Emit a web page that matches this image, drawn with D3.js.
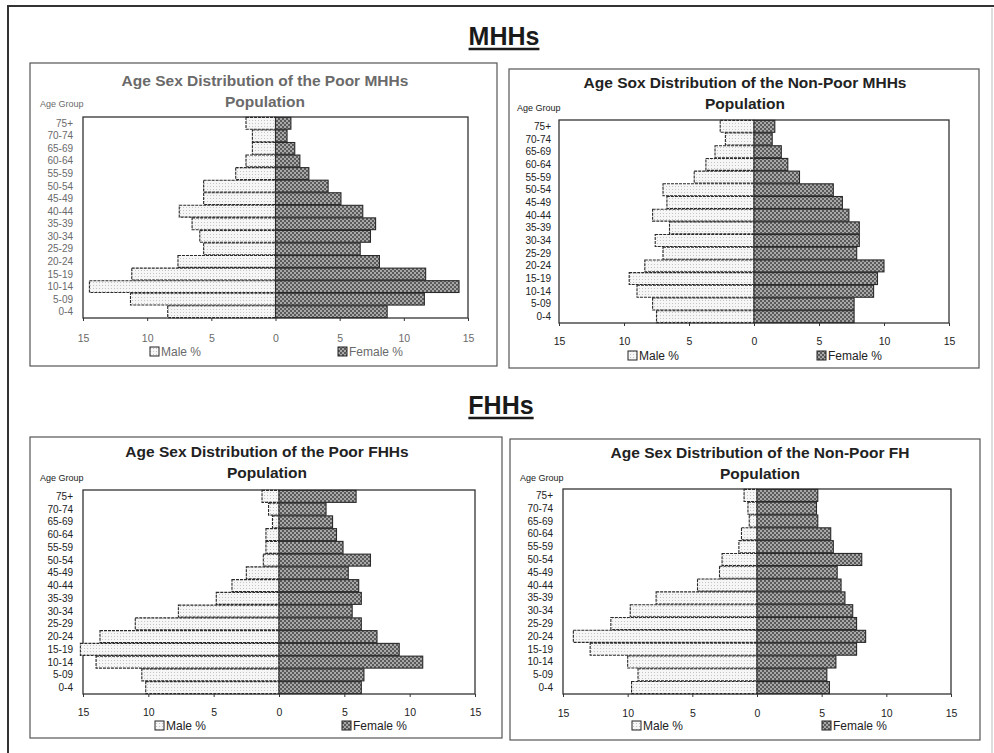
<!DOCTYPE html>
<html>
<head>
<meta charset="utf-8">
<script src="https://cdn.jsdelivr.net/npm/d3@7"></script>
<style>
  body { margin: 0; background: #fff; }
  svg { font-family: 'Liberation Sans', Arial, sans-serif; }
</style>
</head>
<body>
<svg id="page" width="994" height="753"></svg>
<script>
// age groups, top of pyramid first
const ageGroups = ['75+', '70-74', '65-69', '60-64', '55-59', '50-54', '45-49', '40-44',
  '35-39', '30-34', '25-29', '20-24', '15-19', '10-14', '5-09', '0-4']
const tickValues = [-15, -10, -5, 0, 5, 10, 15]

const poorMhhMale = [2.3, 1.8, 1.8, 2.3, 3.1, 5.6, 5.6, 7.5, 6.5, 5.9, 5.6, 7.6, 11.2, 14.5, 11.3, 8.4]
const poorMhhFemale = [1.2, 0.9, 1.5, 1.9, 2.6, 4.1, 5.1, 6.8, 7.8, 7.4, 6.6, 8.1, 11.7, 14.3, 11.6, 8.7]
const nonPoorMhhMale = [2.6, 2.2, 3.0, 3.7, 4.6, 7.0, 6.7, 7.8, 6.5, 7.6, 7.0, 8.4, 9.6, 9.0, 7.8, 7.5]
const nonPoorMhhFemale = [1.6, 1.4, 2.1, 2.6, 3.5, 6.1, 6.8, 7.3, 8.1, 8.1, 7.9, 10.0, 9.5, 9.2, 7.7, 7.7]
const poorFhhMale = [1.3, 0.8, 0.5, 1.0, 1.0, 1.2, 2.5, 3.6, 4.8, 7.7, 11.0, 13.7, 15.2, 14.0, 10.5, 10.2]
const poorFhhFemale = [5.9, 3.6, 4.1, 4.4, 4.9, 7.0, 5.3, 6.1, 6.3, 5.6, 6.3, 7.5, 9.2, 11.0, 6.5, 6.3]
const nonPoorFhhMale = [1.0, 0.7, 0.6, 1.2, 1.4, 2.7, 2.9, 4.6, 7.8, 9.8, 11.3, 14.2, 12.9, 10.0, 9.2, 9.7]
const nonPoorFhhFemale = [4.7, 4.6, 4.7, 5.7, 5.9, 8.1, 6.2, 6.5, 6.8, 7.4, 7.7, 8.4, 7.7, 6.1, 5.4, 5.6]

const panels = [
  { title: ['Age Sex Distribution of the Poor MHHs', 'Population'], male: poorMhhMale, female: poorMhhFemale,
    box: [30, 63, 467, 303], plot: [83, 468, 117, 318], titleX: 265, titleY: [86, 107],
    labelRight: 73, ageGroupX: 40, ageGroupY: 107, tickY: 338, legendY: 356, maleX: 150, femaleX: 338, faded: true },
  { title: ['Age Sox Distribution of the Non-Poor MHHs', 'Population'], male: nonPoorMhhMale, female: nonPoorMhhFemale,
    box: [509, 69, 470, 299], plot: [559, 949, 120, 323], titleX: 745, titleY: [88, 109],
    labelRight: 551, ageGroupX: 517, ageGroupY: 111, tickY: 341, legendY: 360, maleX: 628, femaleX: 817 },
  { title: ['Age Sex Distribution of the Poor FHHs', 'Population'], male: poorFhhMale, female: poorFhhFemale,
    box: [30, 437, 472, 301], plot: [83, 475, 490, 694], titleX: 267, titleY: [457, 478],
    labelRight: 73, ageGroupX: 40, ageGroupY: 481, tickY: 712, legendY: 730, maleX: 155, femaleX: 342 },
  { title: ['Age Sex Distribution of the Non-Poor FH', 'Population'], male: nonPoorFhhMale, female: nonPoorFhhFemale,
    box: [510, 439, 470, 301], plot: [563, 951, 489, 694], titleX: 760, titleY: [458, 479],
    labelRight: 553, ageGroupX: 520, ageGroupY: 481, tickY: 713, legendY: 730, maleX: 632, femaleX: 822 }
]

const svg = d3.select('#page')
const defs = svg.append('defs')

// light dotted fill for males
const pm = defs.append('pattern').attr('id', 'malePat').attr('patternUnits', 'userSpaceOnUse')
  .attr('width', 3).attr('height', 3)
pm.append('rect').attr('width', 3).attr('height', 3).attr('fill', '#f6f6f6')
pm.append('rect').attr('width', 1).attr('height', 1).attr('fill', '#c4c4c4')

// dark checker fill for females
const pf = defs.append('pattern').attr('id', 'femalePat').attr('patternUnits', 'userSpaceOnUse')
  .attr('width', 4).attr('height', 4)
pf.append('rect').attr('width', 4).attr('height', 4).attr('fill', '#a8a8a8')
pf.append('rect').attr('width', 2).attr('height', 2).attr('fill', '#5a5a5a')
pf.append('rect').attr('x', 2).attr('y', 2).attr('width', 2).attr('height', 2).attr('fill', '#5a5a5a')

// page frame
svg.append('path').attr('d', 'M8,753 V6 H994').attr('fill', 'none').attr('stroke', '#333').attr('stroke-width', 2)
svg.append('line').attr('x1', 992).attr('x2', 992).attr('y1', 8).attr('y2', 753)
  .attr('stroke', '#bbb').attr('stroke-width', 1)

// section headings
const headings = [{ text: 'MHHs', x: 504, y: 45 }, { text: 'FHHs', x: 501, y: 414 }]
headings.forEach(h => {
  const t = svg.append('text').attr('x', h.x).attr('y', h.y).attr('text-anchor', 'middle')
    .attr('font-size', 25).attr('font-weight', 'bold').attr('fill', '#1a1a1a').text(h.text)
  const w = t.node().getComputedTextLength()
  svg.append('line').attr('x1', h.x - w / 2).attr('x2', h.x + w / 2)
    .attr('y1', h.y + 4).attr('y2', h.y + 4).attr('stroke', '#1a1a1a').attr('stroke-width', 2.5)
})

function drawPanel(p) {
  const ink = p.faded ? '#6a6a6a' : '#222'
  const g = svg.append('g')
  const [bx, by, bw, bh] = p.box
  g.append('rect').attr('x', bx).attr('y', by).attr('width', bw).attr('height', bh)
    .attr('fill', '#fff').attr('stroke', '#555').attr('stroke-width', 1.2)

  p.title.forEach((line, i) => {
    g.append('text').attr('x', p.titleX).attr('y', p.titleY[i]).attr('text-anchor', 'middle')
      .attr('font-size', 15.5).attr('font-weight', 'bold').attr('fill', ink).text(line)
  })

  const [x0, x1, y0, y1] = p.plot
  const x = d3.scaleLinear().domain([-15, 15]).range([x0, x1])
  const y = d3.scaleBand().domain(ageGroups).range([y0, y1]).paddingInner(0.06).paddingOuter(0.03)

  g.append('rect').attr('x', x0).attr('y', y0).attr('width', x1 - x0).attr('height', y1 - y0)
    .attr('fill', '#fff').attr('stroke', '#333').attr('stroke-width', 1.3)

  g.selectAll('.male').data(ageGroups).join('rect').attr('class', 'male')
    .attr('x', (d, i) => x(-p.male[i])).attr('y', d => y(d))
    .attr('width', (d, i) => x(0) - x(-p.male[i])).attr('height', y.bandwidth())
    .attr('fill', 'url(#malePat)').attr('stroke', '#2a2a2a').attr('stroke-width', 1.1)
    .attr('stroke-dasharray', '3,1')

  g.selectAll('.female').data(ageGroups).join('rect').attr('class', 'female')
    .attr('x', x(0)).attr('y', d => y(d))
    .attr('width', (d, i) => x(p.female[i]) - x(0)).attr('height', y.bandwidth())
    .attr('fill', 'url(#femalePat)').attr('stroke', '#2a2a2a').attr('stroke-width', 1.1)

  // age labels
  g.selectAll('.age').data(ageGroups).join('text').attr('class', 'age')
    .attr('x', p.labelRight).attr('y', d => y(d) + y.bandwidth() / 2 + 3.5)
    .attr('text-anchor', 'end').attr('font-size', 10).attr('fill', ink).text(d => d)

  g.append('text').attr('x', p.ageGroupX).attr('y', p.ageGroupY)
    .attr('font-size', 9).attr('fill', ink).text('Age Group')

  // value axis
  const ax = g.append('g').attr('transform', `translate(0,${y1})`)
    .call(d3.axisBottom(x).tickValues(tickValues).tickSize(3).tickFormat(d => Math.abs(d)))
  ax.select('.domain').remove()
  ax.selectAll('line').attr('stroke', '#333')
  ax.selectAll('text').attr('font-size', 10.5).attr('fill', ink).attr('font-family', 'Liberation Sans, Arial, sans-serif')
    .attr('y', p.tickY - y1 + 4).attr('dy', 0)

  // legend
  const legend = [{ label: 'Male %', x: p.maleX, fill: 'url(#malePat)' }, { label: 'Female %', x: p.femaleX, fill: 'url(#femalePat)' }]
  legend.forEach(l => {
    g.append('rect').attr('x', l.x).attr('y', p.legendY - 9).attr('width', 9).attr('height', 9)
      .attr('fill', l.fill).attr('stroke', '#222').attr('stroke-width', 1)
    g.append('text').attr('x', l.x + 11).attr('y', p.legendY).attr('font-size', 12)
      .attr('fill', ink).text(l.label)
  })
}

panels.forEach(drawPanel)
</script>
</body>
</html>
